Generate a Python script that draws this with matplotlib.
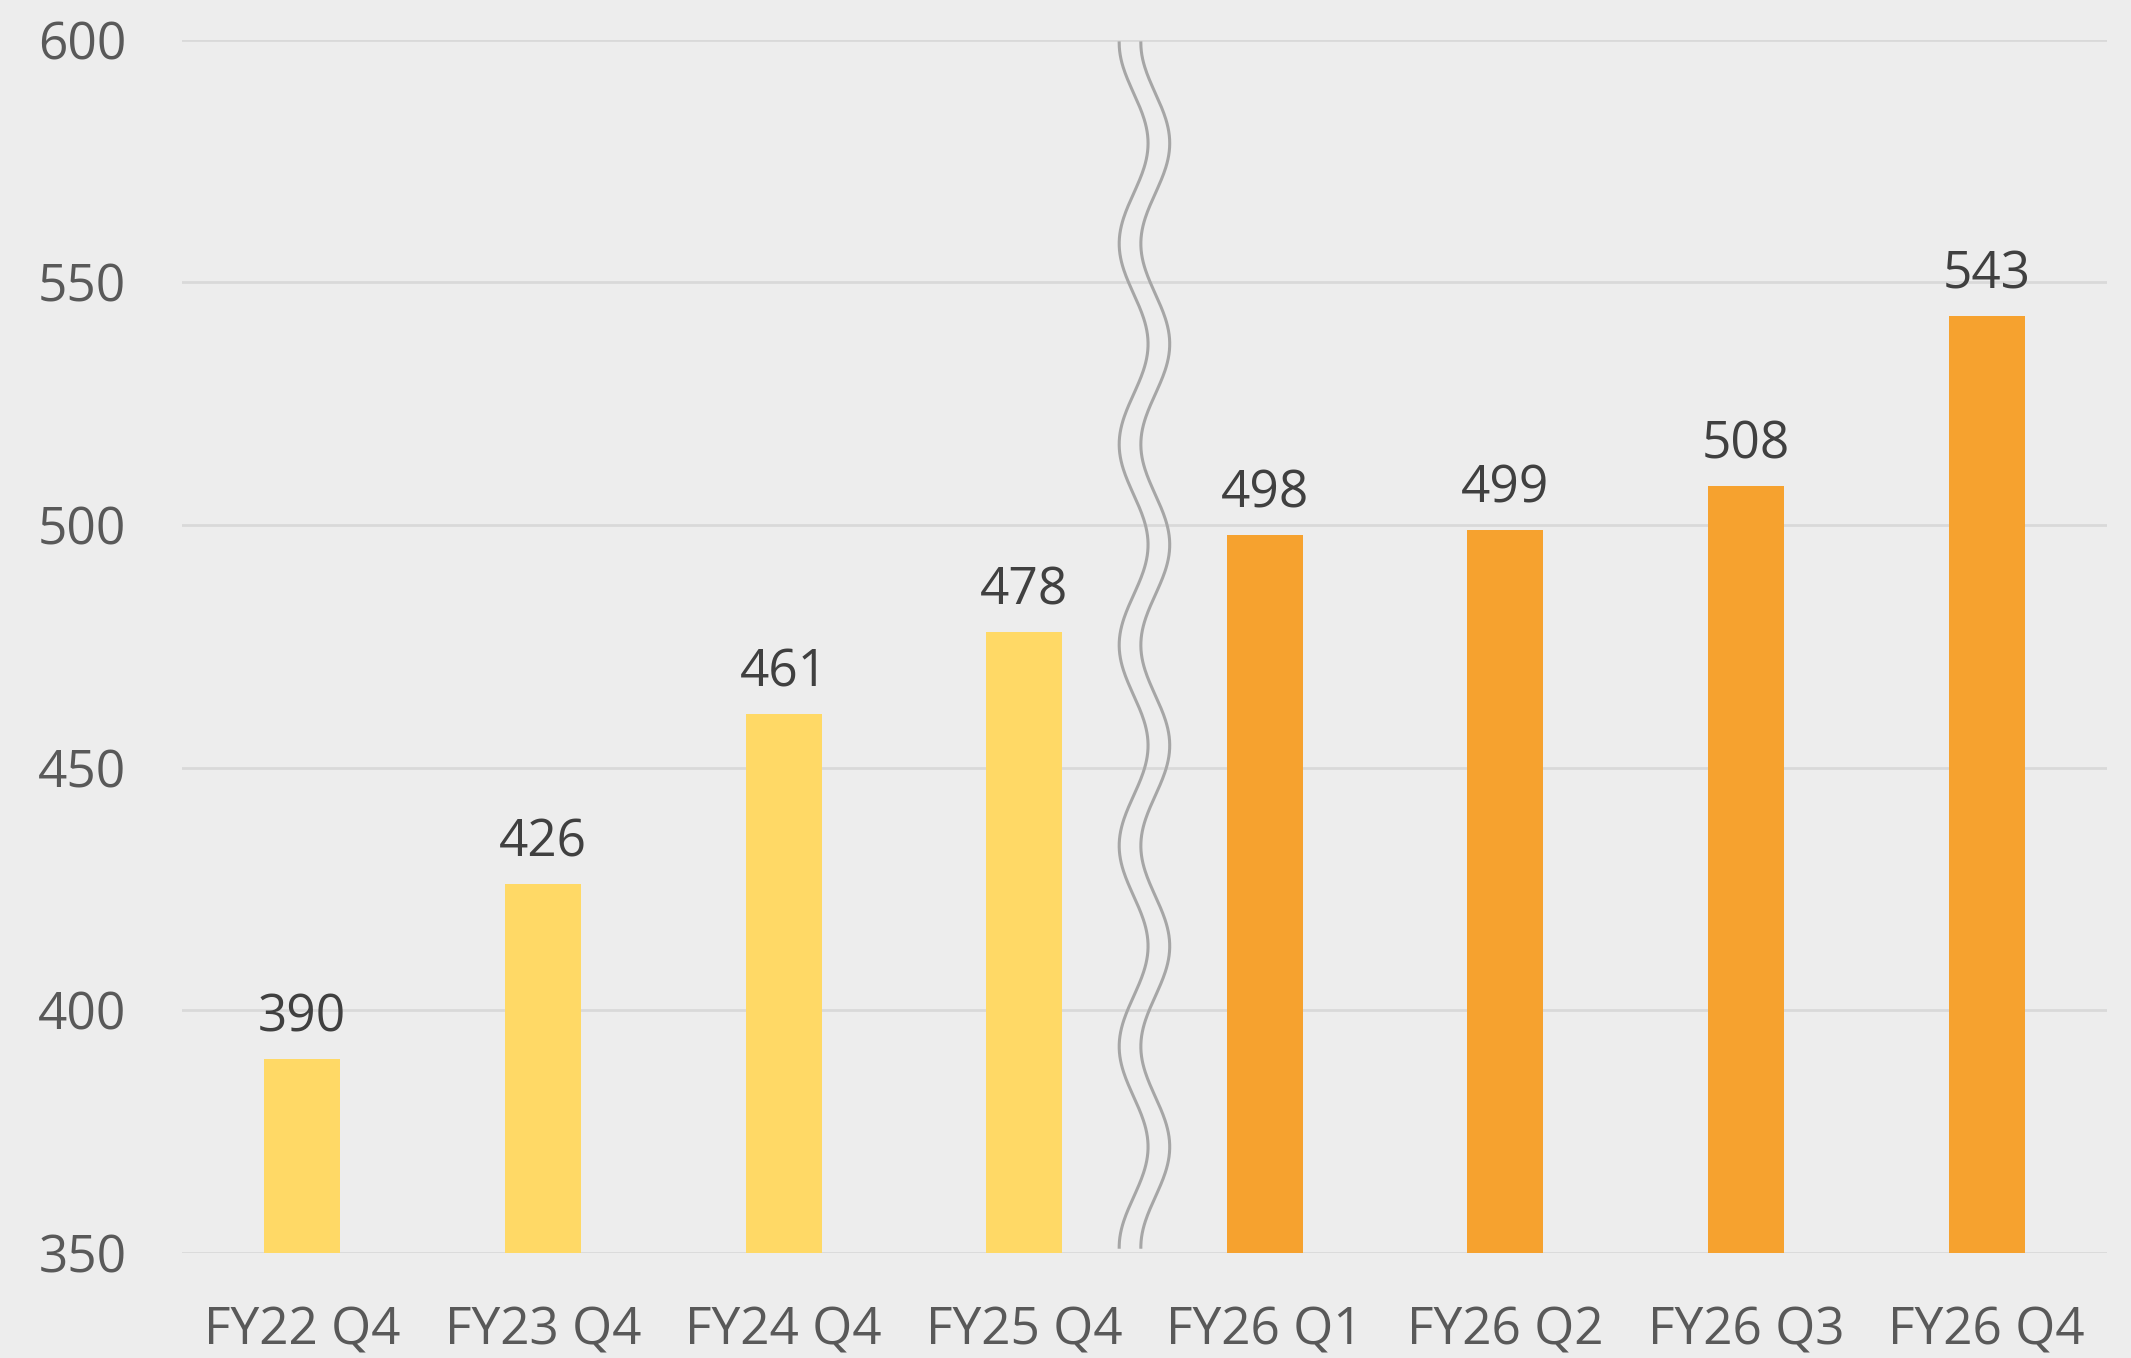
import numpy as np
import matplotlib.pyplot as plt

categories = ['FY22 Q4', 'FY23 Q4', 'FY24 Q4', 'FY25 Q4',
              'FY26 Q1', 'FY26 Q2', 'FY26 Q3', 'FY26 Q4']
values = [390, 426, 461, 478, 498, 499, 508, 543]
yticks = [350, 400, 450, 500, 550, 600]

plt.rcParams['font.family'] = ['Open Sans', 'DejaVu Sans']

fig = plt.figure(figsize=(21.31, 13.58), dpi=100, facecolor='#EDEDED')
ax = fig.add_axes([0.0854, 0.0773, 0.9033, 0.8936], facecolor='#EDEDED')

x = np.arange(len(categories))
colors = ['#FFD966'] * 4 + ['#F6A22F'] * 4
ax.bar(x, values, width=0.316, color=colors, zorder=3)

for xi, v in zip(x, values):
    ax.annotate(str(v), (xi, v), xytext=(0, 11), textcoords='offset points',
                ha='center', va='bottom', fontsize=37, color='#404040')

ax.set_xlim(-0.5, len(categories) - 0.5)
ax.set_ylim(350, 600)
ax.set_yticks(yticks)
ax.set_xticks(x)
ax.set_xticklabels(categories)
ax.tick_params(axis='both', length=0, labelsize=37, labelcolor='#595959')
ax.tick_params(axis='y', pad=40)
ax.tick_params(axis='x', pad=38)
ax.grid(axis='y', color='#D9D9D9', linewidth=2, zorder=0)
for s in ax.spines.values():
    s.set_visible(False)

# axis break: two wavy lines between FY25 Q4 and FY26 Q1
t = np.linspace(0, 1, 600)
wy = 599.3 - t * (599.3 - 351.2)
wx = -0.06 * np.cos(2 * np.pi * 6 * t)
for off in (-0.045, 0.045):
    ax.plot(3.5 + off + wx, wy, color='#A6A6A6', linewidth=2.2, zorder=4)

fig.savefig('out.png', dpi=100, facecolor=fig.get_facecolor())
